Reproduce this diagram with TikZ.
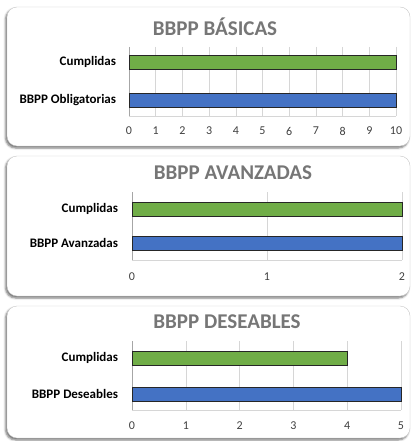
\documentclass[tikz,border=0pt]{standalone}
\usepackage{fontspec}
\setmainfont{Carlito}
\usetikzlibrary{shadows.blur}

\definecolor{barGreen}{RGB}{112,173,71}
\definecolor{barBlue}{RGB}{68,114,196}
\definecolor{titleGray}{RGB}{118,118,118}
\definecolor{gridGray}{RGB}{214,214,214}
\definecolor{panelGray}{RGB}{200,200,200}

\tikzset{
  panel/.style={draw=panelGray, fill=white, rounded corners=10pt,
    blur shadow={shadow xshift=-1.5pt, shadow yshift=-2pt, shadow blur radius=2pt, shadow opacity=55}},
  barbox/.style={draw=black!85, line width=0.7pt},
  gridline/.style={draw=gridGray, line width=0.6pt},
  axisline/.style={draw=black!35, line width=0.6pt},
  charttitle/.style={inner sep=0.75pt, font=\fontsize{21}{21}\selectfont\bfseries, text=titleGray},
  catlbl/.style={anchor=east, inner sep=0.75pt, font=\fontsize{13}{14}\selectfont\bfseries},
  ticklbl/.style={inner sep=0.75pt, font=\fontsize{12}{12}\selectfont, text=black!75}
}

\begin{document}
\begin{tikzpicture}[x=1pt,y=1pt,yscale=-1,xscale=1]
\path[use as bounding box] (0,0) rectangle (413,441);

%Panel: BBPP BASICAS
\draw[panel] (7,7) rectangle (410,146);
\node[charttitle] (t1) at (215,27) {BBPP BÁSICAS};
\foreach \i in {1,...,10} \draw[gridline] (129+26.7*\i,47) -- (129+26.7*\i,116);
\draw[gridline] (129,116) -- (396,116);
\draw[axisline] (129,47) -- (129,116);
\draw[barbox, fill=barGreen] (129,55) rectangle (396,69);
\draw[barbox, fill=barBlue] (129,93) rectangle (396,107);
% Text Node
\node[catlbl] (c1a) at (117,62) {Cumplidas};
\node[catlbl] (c1b) at (117,100) {BBPP Obligatorias};
\foreach \i in {0,...,10} \node[ticklbl] (k1-\i) at (129+26.7*\i,131) {\i};

%Panel: BBPP AVANZADAS
\draw[panel] (7,156) rectangle (410,296);
\node[charttitle] (t2) at (233,173) {BBPP AVANZADAS};
\foreach \i in {1,2} \draw[gridline] (132+135*\i,192) -- (132+135*\i,260);
\draw[gridline] (132,260) -- (402,260);
\draw[axisline] (132,192) -- (132,260);
\draw[barbox, fill=barGreen] (132,202) rectangle (402,216);
\draw[barbox, fill=barBlue] (132,236) rectangle (402,250);
% Text Node
\node[catlbl] (c2a) at (119,209) {Cumplidas};
\node[catlbl] (c2b) at (119,243) {BBPP Avanzadas};
\foreach \i in {0,1,2} \node[ticklbl] (k2-\i) at (132+135*\i,277) {\i};

%Panel: BBPP DESEABLES
\draw[panel] (7,306) rectangle (410,438);
\node[charttitle] (t3) at (227,322) {BBPP DESEABLES};
\foreach \i in {1,...,5} \draw[gridline] (132+53.8*\i,341) -- (132+53.8*\i,410);
\draw[gridline] (132,410) -- (401,410);
\draw[axisline] (132,341) -- (132,410);
\draw[barbox, fill=barGreen] (132,351) rectangle (347.2,365);
\draw[barbox, fill=barBlue] (132,387) rectangle (401,401);
% Text Node
\node[catlbl] (c3a) at (119,358) {Cumplidas};
\node[catlbl] (c3b) at (119,394) {BBPP Deseables};
\foreach \i in {0,...,5} \node[ticklbl] (k3-\i) at (132+53.8*\i,426) {\i};

\end{tikzpicture}
\end{document}
